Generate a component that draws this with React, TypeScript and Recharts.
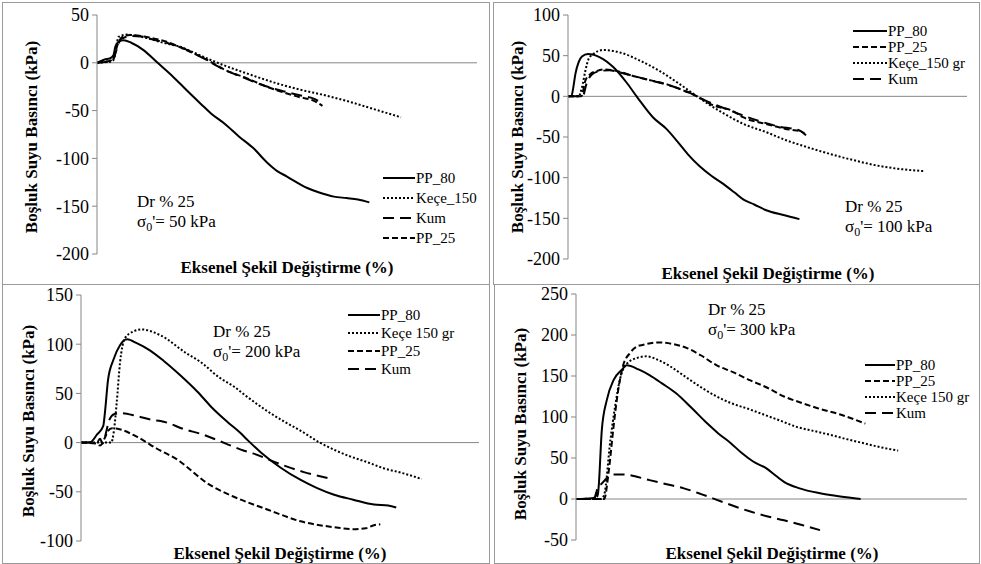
import React from 'react';
import { LineChart, Line, XAxis, YAxis, ReferenceLine } from 'recharts';

type Pt = [number, number];

// σ0' = 50 kPa  (x: axial strain %, y: pore pressure kPa)
const s50_pp80: Pt[] = [[0, 0], [0.6, 3.5], [1.0, 4.5], [1.3, 8], [1.45, 17], [1.7, 22], [2.1, 23.5], [2.7, 21], [3.7, 13], [4.7, 1], [6, -14.5], [7.1, -29], [8.2, -43], [9, -53], [10.1, -64], [11.2, -77], [12.4, -90], [13.4, -104], [14.2, -113], [15, -119], [16.6, -131], [17.6, -136], [18.7, -140], [19.7, -141.5], [20.6, -143], [21.5, -146]];
const s50_kece: Pt[] = [[0, 0], [0.5, 0.5], [1.0, 1], [1.3, 3], [1.5, 15], [1.7, 27], [2.35, 29.5], [3.9, 26], [5.2, 21], [6.5, 17], [7.6, 11], [8.7, 4.5], [10, -2.5], [11.8, -11], [14.2, -21.5], [16, -28], [18, -34], [20, -41], [22, -49], [24, -57]];
const s50_kum: Pt[] = [[0, 0], [0.8, 1], [1.2, 2], [1.5, 12], [1.9, 25], [2.7, 28], [3.5, 27.5], [4.5, 24], [5.5, 21], [7, 14], [8.5, 4], [10, -7], [11.5, -15], [13, -23], [14.5, -29], [16, -34], [17.2, -38], [17.8, -43]];
const s50_pp25: Pt[] = [[0, 0], [0.5, 1], [1, 2], [1.3, 4], [1.6, 18], [2.0, 27], [2.6, 29], [3.9, 27], [5.5, 22], [7.1, 13], [8.7, 3], [10.2, -8], [11.8, -16], [13.4, -25], [14.5, -30], [16, -36], [17, -39], [17.8, -45]];

// σ0' = 100 kPa
const s100_pp80: Pt[] = [[0, 0], [0.25, 0], [0.4, 11], [0.55, 27], [0.8, 42], [1.05, 49], [1.5, 52], [2.4, 48], [3.4, 36], [4.4, 17], [5.2, -1], [6.4, -26], [7.4, -40], [8.2, -55], [9, -71], [9.9, -86], [10.8, -98], [11.7, -108], [12.5, -118], [13.2, -127], [14, -133], [14.9, -140], [16.2, -146], [17.4, -151]];
const s100_pp25: Pt[] = [[0, 0], [1.0, 0], [1.3, 19], [1.65, 27], [2.15, 31], [2.7, 33], [3.7, 31], [4.9, 25], [6.4, 19], [7.4, 15], [8.4, 9], [9.7, 0], [10.9, -11], [12.4, -18], [13.2, -26], [14.9, -34], [16.7, -41], [17.5, -43], [18, -50]];
const s100_kece: Pt[] = [[0, 0], [0.8, 0], [1.05, 11], [1.3, 31], [1.55, 46], [1.9, 52], [2.65, 57], [3.9, 54], [5.4, 44], [6.9, 31], [8.4, 15], [9.7, 0], [10.6, -10], [11.7, -21], [13.2, -34], [14.9, -44], [16.4, -54], [17.9, -62], [19.1, -68], [20.4, -74], [21.6, -79], [22.9, -84], [24.8, -89], [26.8, -92]];
const s100_kum: Pt[] = [[0, 0], [1.1, 0], [1.4, 16], [1.8, 27], [2.4, 31], [3.1, 32], [4.2, 28], [5.4, 23], [6.6, 18], [7.9, 12], [9.2, 4], [10.3, -5], [11.5, -13], [12.9, -22], [14.3, -30], [15.8, -37], [17.4, -42], [17.8, -46]];

// σ0' = 200 kPa
const s200_pp80: Pt[] = [[0, 0], [0.55, 0], [1.0, 8], [1.4, 17], [1.5, 30], [1.7, 64], [2.03, 84], [2.45, 99], [2.9, 105], [3.5, 101], [4.3, 94], [5.2, 83], [6.2, 69], [7.3, 52], [8.2, 36], [9.2, 21], [10, 10], [10.5, 2], [11.3, -10], [12.5, -25], [13.8, -38], [14.8, -46], [15.9, -53], [17.1, -58], [18.4, -63], [19.3, -64], [19.8, -66]];
const s200_kece: Pt[] = [[0, 0], [1.9, 0], [2.05, 10], [2.24, 40], [2.45, 81], [2.76, 106], [3.3, 113], [3.8, 115], [5, 109], [6.6, 91], [7.5, 82], [8.7, 66], [9.6, 57], [10.4, 47], [11.7, 32], [12.8, 21], [13.8, 12], [15, 0], [16, -8], [16.9, -14], [18, -20], [19, -26], [20.2, -31], [21.4, -37]];
const s200_pp25: Pt[] = [[0, 0], [0.9, -1], [1.2, -3], [1.5, 5], [1.7, 12], [1.95, 14.5], [2.3, 14], [3.5, 6], [4.75, -6], [6.2, -19], [6.6, -24], [7.9, -41], [9.6, -55], [11.7, -68], [13.8, -80], [15.9, -86], [17.1, -88], [17.9, -87], [18.4, -84], [18.8, -83]];
const s200_kum: Pt[] = [[0, 0], [1.0, 0], [1.2, 4], [1.35, -1], [1.6, 12], [1.75, 22], [2.1, 29], [2.5, 30], [3.5, 27], [4.5, 23], [5.0, 22], [6.6, 13], [7.5, 9], [9.1, -1], [10.2, -8], [10.8, -11], [12.7, -23], [14, -30], [15.5, -36]];

// σ0' = 300 kPa
const s300_pp80: Pt[] = [[0, 0], [1.0, 1], [1.2, 2], [1.3, 8], [1.38, 3], [1.45, 15], [1.65, 84], [1.96, 120], [2.4, 145], [2.9, 157], [3.24, 163], [4.0, 158], [4.7, 151], [5.5, 141], [6.4, 129], [7.4, 111], [8.4, 92], [9.1, 80], [9.9, 68], [10.6, 56], [11.3, 46], [12.2, 37], [12.8, 28], [13.3, 21], [14.3, 13], [15.6, 7], [16.9, 3], [18.2, 0]];
const s300_pp25: Pt[] = [[0, 0], [1.8, 0], [2.1, 35], [2.4, 88], [2.7, 133], [3.0, 162], [3.45, 178], [3.9, 186], [4.3, 188], [5.2, 191], [6.2, 189], [7.1, 184], [8.0, 175], [9.0, 163], [10, 155], [11.1, 145], [12.2, 136], [13.3, 125], [14.3, 118], [15.4, 111], [16.9, 103], [18.5, 92]];
const s300_kece: Pt[] = [[0, 0], [1.6, 0], [1.8, 5], [2.2, 72], [2.5, 113], [2.8, 145], [3.2, 164], [3.9, 172], [4.5, 174], [5.2, 170], [6.0, 162], [7.0, 149], [8.1, 135], [9.0, 125], [9.9, 117], [11, 110], [12, 103], [13, 96], [14.1, 88], [15.2, 83], [16.3, 78], [17.3, 73], [18.4, 68], [19.5, 63], [20.6, 59]];
const s300_kum: Pt[] = [[0, 0], [1.2, 1], [1.4, 15], [1.6, 18], [2.0, 26], [2.4, 30], [3.0, 30], [4.7, 23], [5.8, 18], [6.9, 13], [8.0, 6], [9, -1], [10, -8], [11.1, -15], [12.2, -21], [13.3, -26], [14.5, -32], [15.6, -38]];

const ticks30 = [0, 10, 20, 30];
const ticks30b = [0, 5, 10, 15, 20, 25, 30];
const ticks25 = [0, 5, 10, 15, 20, 25];

const FONT = 'Liberation Serif';
const AXIS = '#868686';
const DASH = { pp80: undefined, pp25: '6 3', kece: '2 2', kum: '11 6' } as const;

interface Series { name: string; pts: Pt[]; dash?: string }
interface Panel {
  box: [number, number, number, number];
  plot: [number, number, number, number];
  xMax: number;
  xTicks: number[];
  yDomain: [number, number];
  yTicks: number[];
  series: Series[];
  legend: [number, number, number, number];
  note: [number, number, string];
  yTitle: [number, number];
  xTitle: [number, number];
}

const panels: Panel[] = [
  {
    box: [2, 2, 488, 283], plot: [97, 477, 15, 254], xMax: 30, xTicks: ticks30,
    yDomain: [-200, 50], yTicks: [50, 0, -50, -100, -150, -200],
    series: [
      { name: 'PP_80', pts: s50_pp80, dash: DASH.pp80 },
      { name: 'Keçe_150', pts: s50_kece, dash: DASH.kece },
      { name: 'Kum', pts: s50_kum, dash: DASH.kum },
      { name: 'PP_25', pts: s50_pp25, dash: DASH.pp25 },
    ],
    legend: [383, 178, 20, 32], note: [137, 207, '50'], yTitle: [31, 137], xTitle: [287, 273],
  },
  {
    box: [493, 2, 487, 283], plot: [568, 967, 15, 259], xMax: 30, xTicks: ticks30b,
    yDomain: [-200, 100], yTicks: [100, 50, 0, -50, -100, -150, -200],
    series: [
      { name: 'PP_80', pts: s100_pp80, dash: DASH.pp80 },
      { name: 'PP_25', pts: s100_pp25, dash: DASH.pp25 },
      { name: 'Keçe_150 gr', pts: s100_kece, dash: DASH.kece },
      { name: 'Kum', pts: s100_kum, dash: DASH.kum },
    ],
    legend: [853, 31, 16, 34], note: [845, 212, '100'], yTitle: [517, 137], xTitle: [768, 279],
  },
  {
    box: [2, 284, 488, 280], plot: [81, 479, 295, 541], xMax: 25, xTicks: ticks25,
    yDomain: [-100, 150], yTicks: [150, 100, 50, 0, -50, -100],
    series: [
      { name: 'PP_80', pts: s200_pp80, dash: DASH.pp80 },
      { name: 'Keçe 150 gr', pts: s200_kece, dash: DASH.kece },
      { name: 'PP_25', pts: s200_pp25, dash: DASH.pp25 },
      { name: 'Kum', pts: s200_kum, dash: DASH.kum },
    ],
    legend: [348, 315, 18, 32], note: [213, 337, '200'], yTitle: [28, 421], xTitle: [280, 559],
  },
  {
    box: [494, 284, 486, 280], plot: [576, 967, 294, 540], xMax: 25, xTicks: ticks25,
    yDomain: [-50, 250], yTicks: [250, 200, 150, 100, 50, 0, -50],
    series: [
      { name: 'PP_80', pts: s300_pp80, dash: DASH.pp80 },
      { name: 'PP_25', pts: s300_pp25, dash: DASH.pp25 },
      { name: 'Keçe 150 gr', pts: s300_kece, dash: DASH.kece },
      { name: 'Kum', pts: s300_kum, dash: DASH.kum },
    ],
    legend: [865, 365, 16, 30], note: [708, 315, '300'], yTitle: [520, 424], xTitle: [772, 559],
  },
];

const YAXIS_W = 50;

const makeXTick = (zeroY: number) => (props: any) => {
  const { x, payload } = props;
  return (
    <g>
      <line x1={x} x2={x} y1={zeroY} y2={zeroY + 5} stroke={AXIS} />
      <text x={x} y={zeroY + 23} textAnchor="middle" fontSize={18} fontFamily={FONT} fill="#000">
        {payload.value}
      </text>
    </g>
  );
};

function PanelChart({ p }: { p: Panel }) {
  const [l, t, w, h] = p.box;
  const [x0, x1, yTop, yBot] = p.plot;
  const cw = w - 2;
  const ch = h - 2;
  const margin = {
    left: x0 - (l + 1) - YAXIS_W,
    top: yTop - (t + 1),
    right: l + w - 1 - x1,
    bottom: t + h - 1 - yBot,
  };
  const [ymin, ymax] = p.yDomain;
  const zeroY = margin.top + ((yBot - yTop) * ymax) / (ymax - ymin);

  return (
    <div style={{ position: 'absolute', left: l, top: t, width: w, height: h, border: '1px solid #9a9a9a', boxSizing: 'border-box', background: '#fff' }}>
      <LineChart width={cw} height={ch} margin={margin}>
        <XAxis
          type="number"
          dataKey="x"
          domain={[0, p.xMax]}
          ticks={p.xTicks}
          height={0}
          axisLine={false}
          tickLine={false}
          tick={makeXTick(zeroY)}
          allowDataOverflow
        />
        <YAxis
          type="number"
          domain={p.yDomain}
          ticks={p.yTicks}
          width={YAXIS_W}
          interval={0}
          allowDataOverflow
          axisLine={{ stroke: AXIS }}
          tickLine={{ stroke: AXIS }}
          tickSize={5}
          tickMargin={3}
          tick={{ fill: '#000', fontSize: 18, fontFamily: FONT }}
        />
        <ReferenceLine y={0} stroke={AXIS} />
        {p.series.map((s) => (
          <Line
            key={s.name}
            data={s.pts.map(([x, y]) => ({ x, y }))}
            dataKey="y"
            type="monotone"
            stroke="#000"
            strokeWidth={2}
            strokeDasharray={s.dash}
            dot={false}
            activeDot={false}
            isAnimationActive={false}
          />
        ))}
      </LineChart>
    </div>
  );
}

function Overlay() {
  return (
    <svg width={981} height={564} style={{ position: 'absolute', left: 0, top: 0, pointerEvents: 'none' }}>
      {panels.map((p, i) => {
        const [lx, ly, gap, len] = p.legend;
        const [nx, ny, sig] = p.note;
        return (
          <g key={i} fontFamily={FONT}>
            <text
              transform={`translate(${p.yTitle[0]},${p.yTitle[1]}) rotate(-90)`}
              textAnchor="middle"
              dominantBaseline="central"
              fontSize={17}
              fontWeight="bold"
              fontFamily={FONT}
            >
              Boşluk Suyu Basıncı (kPa)
            </text>
            <text x={p.xTitle[0]} y={p.xTitle[1]} textAnchor="middle" fontSize={17} fontWeight="bold" fontFamily={FONT}>
              Eksenel Şekil Değiştirme (%)
            </text>
            <text x={nx} y={ny} fontSize={17} fontFamily={FONT}>Dr % 25</text>
            <text x={nx} y={ny + 20} fontSize={17} fontFamily={FONT}>
              σ<tspan fontSize={12} dy={4}>0</tspan>
              <tspan dy={-4}>'= {sig} kPa</tspan>
            </text>
            {p.series.map((s, k) => (
              <g key={s.name}>
                <line x1={lx} x2={lx + len} y1={ly + k * gap} y2={ly + k * gap} stroke="#000" strokeWidth={2} strokeDasharray={s.dash} />
                <text x={lx + len + 1} y={ly + k * gap} dominantBaseline="central" fontSize={15} fontFamily={FONT}>
                  {s.name}
                </text>
              </g>
            ))}
          </g>
        );
      })}
    </svg>
  );
}

export default function App() {
  return (
    <div style={{ position: 'absolute', left: 0, top: 0, width: 981, height: 564, background: '#fff', overflow: 'hidden' }}>
      {panels.map((p, i) => (
        <PanelChart key={i} p={p} />
      ))}
      <Overlay />
    </div>
  );
}
